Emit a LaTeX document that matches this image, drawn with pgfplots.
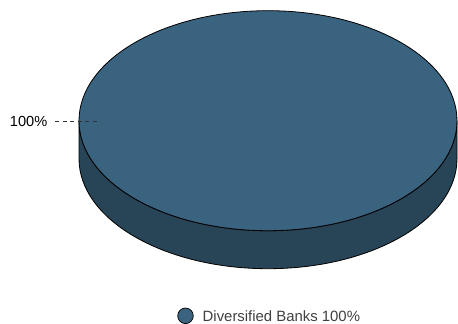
\documentclass[border=0pt]{standalone}
\usepackage{pgfplots}
\pgfplotsset{compat=1.18}
\usepackage{fontspec}
\setmainfont{Liberation Sans}
\definecolor{topc}{HTML}{3A6380}
\definecolor{sidec}{HTML}{284457}
\definecolor{legtext}{HTML}{404040}
\begin{document}
\begin{tikzpicture}
\begin{axis}[hide axis, scale only axis, width=458bp, height=324bp,
  xmin=0, xmax=458, ymin=0, ymax=324, y dir=reverse, clip=false]
\path (axis cs:0,0) rectangle (axis cs:458,324);
% side of the single 100% slice
\filldraw[fill=sidec, draw=black, line width=0.8bp]
  (axis cs:79,120.7) -- (axis cs:79,158.7)
  arc[start angle=180, end angle=360, x radius=189bp, y radius=110bp]
  -- (axis cs:457,120.7)
  arc[start angle=360, end angle=180, x radius=189bp, y radius=110bp] -- cycle;
% top of the slice (100% = full ellipse)
\filldraw[fill=topc, draw=black, line width=0.8bp]
  (axis cs:268,120.7) ellipse [x radius=189bp, y radius=110bp];
% leader line and label
\addplot[draw=black!80, line width=0.8bp, dash pattern=on 4bp off 3.5bp] coordinates {(55,121) (100,121)};
\node[anchor=base east, inner sep=0pt, font=\fontsize{14.6bp}{17bp}\selectfont] at (axis cs:47.5,126) {100\%};
% legend
\addplot[only marks, mark=*, mark size=7.8bp, mark options={fill=topc, draw=black, line width=0.7bp}] coordinates {(185.5,315.8)};
\node[anchor=base west, inner sep=0pt, text=legtext, font=\fontsize{14.9bp}{17bp}\selectfont] at (axis cs:202.5,321) {Diversified Banks 100\%};
\end{axis}
\end{tikzpicture}
\end{document}
